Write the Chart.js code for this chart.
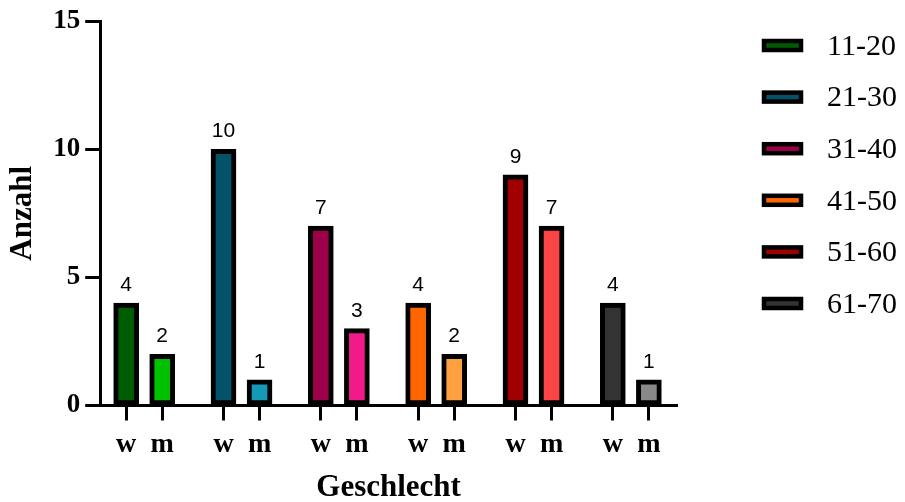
<!DOCTYPE html>
<html>
<head>
<meta charset="utf-8">
<script src="https://cdn.jsdelivr.net/npm/chart.js@4"></script>
<style>
  body { margin: 0; background: #fff; }
</style>
</head>
<body>
<canvas id="ageChart" width="905" height="502"></canvas>
<script>
// Data
const AGE_GROUPS = ['11-20', '21-30', '31-40', '41-50', '51-60', '61-70'];
const SEXES = ['w', 'm'];
const COUNT_W = [4, 10, 7, 4, 9, 4];
const COUNT_M = [2, 1, 3, 2, 7, 1];
const Y_TICKS = [0, 5, 10, 15];

// colours: dark shade for w, light shade for m
const COLORS_W = ['#005c00', '#02536a', '#9c0048', '#ff6600', '#a00000', '#333333'];
const COLORS_M = ['#00c000', '#1699b6', '#f2198a', '#ffa040', '#fb4545', '#888888'];

// w and m sit one unit apart, groups 2.7 units apart
const GROUP_STEP = 2.7;
const xPos = (g, s) => g * GROUP_STEP + s;
const TICK_POS = [];
AGE_GROUPS.forEach((_, g) => SEXES.forEach((_, s) => TICK_POS.push(xPos(g, s))));

const serif = 'Liberation Serif';

const datasets = AGE_GROUPS.map((label, g) => ({
  label: label,
  data: [
    { x: xPos(g, 0), y: COUNT_W[g] },
    { x: xPos(g, 1), y: COUNT_M[g] }
  ],
  backgroundColor: [COLORS_W[g], COLORS_M[g]],
  borderColor: '#000',
  borderWidth: 5,
  borderSkipped: false,
  grouped: false,
  barThickness: 25,
  maxBarThickness: 25,
  barPercentage: 1
}));

// numbers above bars
const valueLabels = {
  id: 'valueLabels',
  afterDatasetsDraw(chart) {
    const ctx = chart.ctx;
    ctx.save();
    ctx.font = '21px "Liberation Sans"';
    ctx.fillStyle = '#000';
    ctx.textAlign = 'center';
    ctx.textBaseline = 'alphabetic';
    chart.data.datasets.forEach((ds, i) => {
      chart.getDatasetMeta(i).data.forEach((bar, j) => {
        ctx.fillText(String(ds.data[j].y), bar.x, bar.y - 12);
      });
    });
    ctx.restore();
  }
};

// legend on the right, boxes with black frame
const sideLegend = {
  id: 'sideLegend',
  afterDraw(chart) {
    const ctx = chart.ctx;
    const left = 764, top = 41, step = 51.6;
    ctx.save();
    ctx.font = '30px "' + serif + '"';
    ctx.textBaseline = 'middle';
    ctx.textAlign = 'left';
    chart.data.datasets.forEach((ds, i) => {
      const y = top + i * step;
      ctx.fillStyle = ds.backgroundColor[0];
      ctx.fillRect(left, y, 37, 9);
      ctx.lineWidth = 4.5;
      ctx.strokeStyle = '#000';
      ctx.strokeRect(left, y, 37, 9);
      ctx.fillStyle = '#000';
      ctx.fillText(ds.label, 827, y + 6);
    });
    ctx.restore();
  }
};

new Chart(document.getElementById('ageChart'), {
  type: 'bar',
  data: { datasets: datasets },
  options: {
    responsive: false,
    animation: false,
    layout: { padding: { top: 21, right: 228, bottom: 0, left: 0 } },
    plugins: {
      legend: { display: false },
      tooltip: { enabled: false }
    },
    scales: {
      x: {
        type: 'linear',
        offset: false,
        min: -0.72,
        max: xPos(AGE_GROUPS.length - 1, 1) + 0.78,
        afterBuildTicks: scale => { scale.ticks = TICK_POS.map(v => ({ value: v })); },
        grid: { drawOnChartArea: false, offset: false, tickLength: 15, tickWidth: 3, tickColor: '#000' },
        border: { color: '#000', width: 3 },
        ticks: {
          autoSkip: false,
          maxRotation: 0,
          padding: 7,
          color: '#000',
          font: { family: serif, size: 28, weight: 'bold' },
          callback: (value, index) => SEXES[index % 2]
        },
        title: {
          display: true,
          text: 'Geschlecht',
          color: '#000',
          font: { family: serif, size: 31, weight: 'bold', lineHeight: 0.9 },
          padding: { top: 6, bottom: 0 }
        }
      },
      y: {
        min: 0,
        max: 15,
        afterBuildTicks: scale => { scale.ticks = Y_TICKS.map(v => ({ value: v })); },
        grid: { drawOnChartArea: false, tickLength: 15, tickWidth: 3, tickColor: '#000' },
        border: { color: '#000', width: 3 },
        ticks: {
          padding: 5,
          color: '#000',
          font: { family: serif, size: 27, weight: 'bold' }
        },
        title: {
          display: true,
          text: 'Anzahl',
          color: '#000',
          font: { family: serif, size: 31, weight: 'bold' },
          padding: { top: 4, bottom: 7 }
        }
      }
    }
  },
  plugins: [valueLabels, sideLegend]
});
</script>
</body>
</html>
